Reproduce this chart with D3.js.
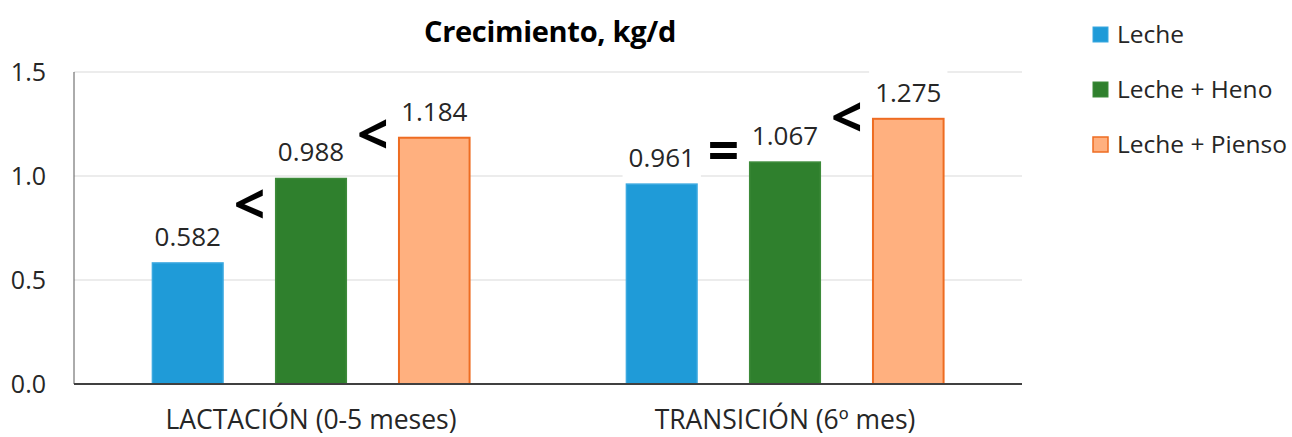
<!DOCTYPE html>
<html>
<head>
<meta charset="utf-8">
<script src="https://cdn.jsdelivr.net/npm/d3@7"></script>
<style>
  html, body { margin: 0; padding: 0; background: #fff; }
  svg { display: block; }
  text { font-family: "Open Sans", sans-serif; fill: #262626; }
</style>
</head>
<body>
<svg id="chart" width="1292" height="437"></svg>
<script>
// Average daily gain by feeding stage and diet
const categories = ["LACTACIÓN (0-5 meses)", "TRANSICIÓN (6º mes)"];
const series = ["Leche", "Leche + Heno", "Leche + Pienso"];
const leche = [0.582, 0.961];
const lecheHeno = [0.988, 1.067];
const lechePienso = [1.184, 1.275];
const yTicks = [0.0, 0.5, 1.0, 1.5];
const title = "Crecimiento, kg/d";
// Comparison signs drawn between neighbouring bars (level in kg/d)
const comparisons = [
  { cat: 0, from: 0, to: 1, sign: "<", level: 0.86 },
  { cat: 0, from: 1, to: 2, sign: "<", level: 1.20 },
  { cat: 1, from: 0, to: 1, sign: "=", level: 1.12 },
  { cat: 1, from: 1, to: 2, sign: "<", level: 1.28 }
];

const values = [leche, lecheHeno, lechePienso];
const fills = ["#1f9bd8", "#2f802d", "#ffb07f"];
const strokes = ["#3aa8e0", "#3d8b3a", "#ee6c22"];

const svg = d3.select("#chart");
svg.append("rect").attr("width", 1292).attr("height", 437).attr("fill", "#fff");

const plot = { left: 74, right: 1022, top: 72, bottom: 384 };

const x0 = d3.scaleBand().domain(d3.range(categories.length)).range([plot.left, plot.right]);
const x1 = d3.scaleBand().domain(d3.range(series.length)).range([0, x0.bandwidth()])
  .paddingInner(0.415).paddingOuter(0.63);
const y = d3.scaleLinear().domain([0, 1.5]).range([plot.bottom, plot.top]);

// gridlines
svg.append("g").selectAll("line").data(yTicks.filter(t => t > 0)).join("line")
  .attr("x1", plot.left).attr("x2", plot.right)
  .attr("y1", d => y(d)).attr("y2", d => y(d))
  .attr("stroke", "#d9d9d9").attr("stroke-width", 1);

// y axis labels
const yAxis = d3.axisLeft(y).tickValues(yTicks).tickFormat(d3.format(".1f")).tickSize(0).tickPadding(28);
const gy = svg.append("g").attr("transform", `translate(${plot.left},0)`).call(yAxis);
gy.select(".domain").remove();
gy.selectAll("text").attr("font-family", "Open Sans, sans-serif").attr("font-size", 25).attr("fill", "#262626");

// bars
const cells = [];
categories.forEach((c, ci) => series.forEach((s, si) => cells.push({ ci, si, v: values[si][ci] })));
const barX = d => x0(d.ci) + x1(d.si);

svg.append("g").selectAll("rect").data(cells).join("rect")
  .attr("x", d => barX(d) + 0.75)
  .attr("width", x1.bandwidth() - 1.5)
  .attr("y", d => y(d.v))
  .attr("height", d => y(0) - y(d.v))
  .attr("fill", d => fills[d.si])
  .attr("stroke", d => strokes[d.si])
  .attr("stroke-width", d => d.si === 2 ? 2 : 1.5);

// value labels with white backing
const lbl = svg.append("g");
cells.forEach(d => {
  const cx = barX(d) + x1.bandwidth() / 2;
  const t = lbl.append("text")
    .attr("x", cx).attr("y", y(d.v) - 17)
    .attr("text-anchor", "middle").attr("font-size", 26)
    .text(d3.format(".3f")(d.v));
  const b = t.node().getBBox();
  lbl.insert("rect", "text")
    .attr("x", b.x - 6).attr("y", b.y - 4)
    .attr("width", b.width + 12).attr("height", b.height + 8)
    .attr("fill", "#fff");
});

// comparison signs
svg.append("g").selectAll("text").data(comparisons).join("text")
  .attr("x", d => (x0(d.cat) + x1(d.from) + x1.bandwidth() + x0(d.cat) + x1(d.to)) / 2)
  .attr("y", d => y(d.level))
  .attr("dy", "0.35em")
  .attr("text-anchor", "middle")
  .attr("font-family", "Liberation Sans, Arial, sans-serif")
  .attr("font-weight", "bold")
  .attr("font-size", 55)
  .style("fill", "#000")
  .text(d => d.sign);

// axis lines
svg.append("line").attr("x1", plot.left).attr("x2", plot.left)
  .attr("y1", plot.top).attr("y2", plot.bottom)
  .attr("stroke", "#595959").attr("stroke-width", 1);
svg.append("line").attr("x1", plot.left).attr("x2", plot.right)
  .attr("y1", plot.bottom).attr("y2", plot.bottom)
  .attr("stroke", "#404040").attr("stroke-width", 2);

// category labels
svg.append("g").selectAll("text").data(categories).join("text")
  .attr("x", (d, i) => x0(i) + x0.bandwidth() / 2)
  .attr("y", 429)
  .attr("text-anchor", "middle").attr("font-size", 26.5)
  .text(d => d);

// title
svg.append("text").attr("x", 550).attr("y", 42)
  .attr("text-anchor", "middle")
  .attr("font-size", 29).attr("font-weight", "bold")
  .attr("letter-spacing", -0.3)
  .style("fill", "#000")
  .text(title);

// legend
const lg = svg.append("g");
series.forEach((s, i) => {
  const cy = 34.5 + i * 55;
  lg.append("rect").attr("x", 1093).attr("y", cy - 7.5).attr("width", 15).attr("height", 15)
    .attr("fill", fills[i]).attr("stroke", strokes[i]).attr("stroke-width", i === 2 ? 1.5 : 1);
  lg.append("text").attr("x", 1117).attr("y", cy).attr("dy", "0.35em")
    .attr("font-size", 24.5).text(s);
});
</script>
</body>
</html>
